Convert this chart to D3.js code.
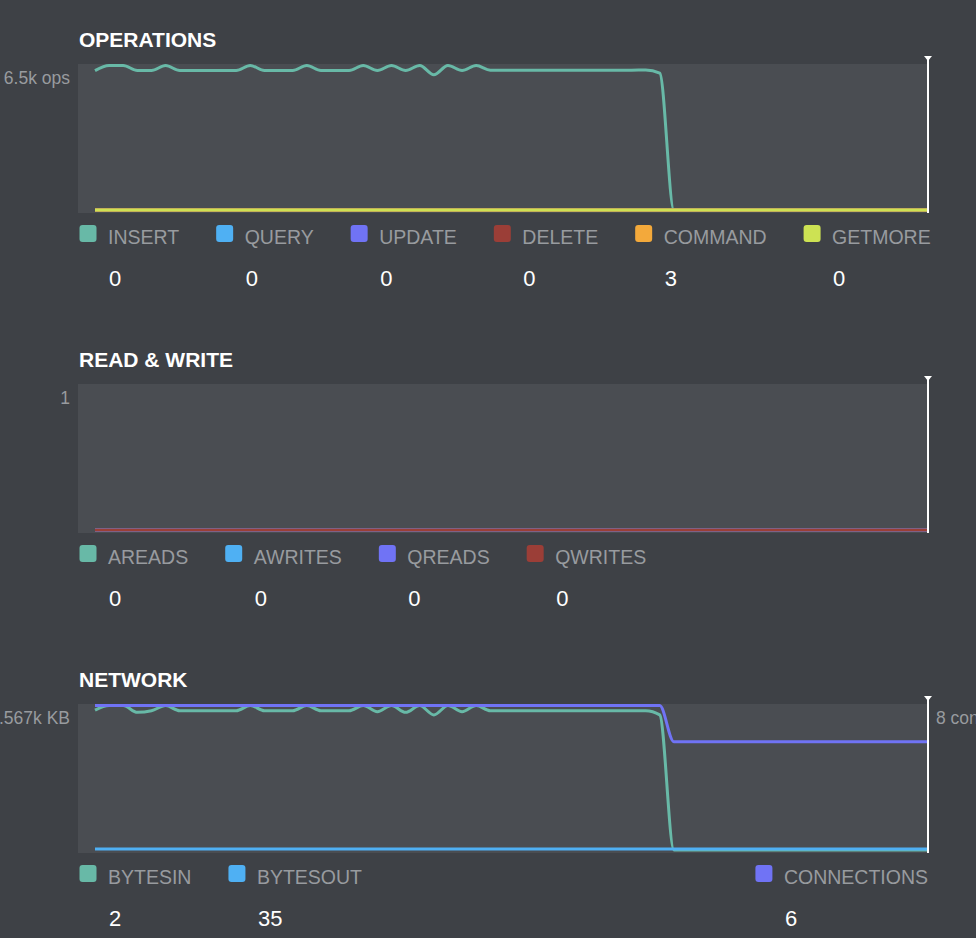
<!DOCTYPE html>
<html>
<head>
<meta charset="utf-8">
<script src="https://cdn.jsdelivr.net/npm/d3@7"></script>
<style>
  html, body { margin: 0; padding: 0; background: #3e4146; overflow: hidden; }
</style>
</head>
<body>
<script>

// ---- data (one sample per tick, oldest first) ----
var insertOps = [6270, 6500, 6500, 6270, 6270, 6500, 6270, 6270, 6270, 6270,
                 6270, 6500, 6270, 6270, 6270, 6500, 6270, 6270, 6270, 6500,
                 6270, 6500, 6270, 6500, 6080, 6500, 6270, 6500, 6290, 6290,
                 6290, 6290, 6290, 6290, 6290, 6290, 6290, 6290, 6290, 6300,
                 6160, 0, 0, 0, 0, 0, 0, 0, 0, 0,
                 0, 0, 0, 0, 0, 0, 0, 0, 0, 0];
var queryOps = [0, 0, 0, 0, 0, 0, 0, 0, 0, 0, 0, 0, 0, 0, 0, 0, 0, 0, 0, 0,
                0, 0, 0, 0, 0, 0, 0, 0, 0, 0, 0, 0, 0, 0, 0, 0, 0, 0, 0, 0,
                0, 0, 0, 0, 0, 0, 0, 0, 0, 0, 0, 0, 0, 0, 0, 0, 0, 0, 0, 0];
var updateOps = queryOps;
var deleteOps = queryOps;
var commandOps = [3, 3, 3, 3, 3, 3, 3, 3, 3, 3, 3, 3, 3, 3, 3, 3, 3, 3, 3, 3,
                  3, 3, 3, 3, 3, 3, 3, 3, 3, 3, 3, 3, 3, 3, 3, 3, 3, 3, 3, 3,
                  3, 3, 3, 3, 3, 3, 3, 3, 3, 3, 3, 3, 3, 3, 3, 3, 3, 3, 3, 3];
var getmoreOps = queryOps;

var aReads = queryOps, aWrites = queryOps, qReads = queryOps, qWrites = queryOps;

var bytesIn = [4420, 4567, 4567, 4350, 4400, 4567, 4400, 4400, 4400, 4400,
               4400, 4567, 4400, 4400, 4400, 4567, 4400, 4400, 4400, 4567,
               4370, 4567, 4350, 4567, 4270, 4567, 4370, 4567, 4400, 4400,
               4400, 4400, 4400, 4400, 4400, 4400, 4400, 4400, 4400, 4400,
               4270, 2, 2, 2, 2, 2, 2, 2, 2, 2,
               2, 2, 2, 2, 2, 2, 2, 2, 2, 2];
var bytesOut = [35, 35, 35, 35, 35, 35, 35, 35, 35, 35, 35, 35, 35, 35, 35, 35, 35, 35, 35, 35,
                35, 35, 35, 35, 35, 35, 35, 35, 35, 35, 35, 35, 35, 35, 35, 35, 35, 35, 35, 35,
                35, 35, 35, 35, 35, 35, 35, 35, 35, 35, 35, 35, 35, 35, 35, 35, 35, 35, 35, 35];
var connections = [8, 8, 8, 8, 8, 8, 8, 8, 8, 8, 8, 8, 8, 8, 8, 8, 8, 8, 8, 8,
                   8, 8, 8, 8, 8, 8, 8, 8, 8, 8, 8, 8, 8, 8, 8, 8, 8, 8, 8, 8,
                   8, 6, 6, 6, 6, 6, 6, 6, 6, 6, 6, 6, 6, 6, 6, 6, 6, 6, 6, 6];

// ---- labels ----
var chartTitles = ["OPERATIONS", "READ & WRITE", "NETWORK"];
var opsKeys = ["INSERT", "QUERY", "UPDATE", "DELETE", "COMMAND", "GETMORE"];
var rwKeys = ["AREADS", "AWRITES", "QREADS", "QWRITES"];
var netKeys = ["BYTESIN", "BYTESOUT", "CONNECTIONS"];
var opsCurrent = [0, 0, 0, 0, 3, 0];
var rwCurrent = [0, 0, 0, 0];
var netCurrent = [2, 35, 6];
var leftLabels = ["6.5k ops", "1", "4.567k KB"];
var rightLabel = "8 conns";
var yMax = [6500, 1, 4567];
var connMax = 8;

// ---- colours ----
var col = {
    green: "#68b9a7",
    blue: "#4fb0f3",
    purple: "#7073f5",
    red: "#9b3e37",
    orange: "#f3a93b",
    lime: "#cde253"
};
var bg = "#3e4146",
    plotBg = "#4a4d52",
    labelGrey = "#989b9f",
    font = '"Liberation Sans", Arial, sans-serif';

var W = 976, H = 938;
var plot = {left: 78, right: 928, h: 149},
    lineStart = 95,
    sectionTops = [64, 384, 704];

var svg = d3.select("body").append("svg")
    .attr("width", W)
    .attr("height", H);

svg.append("rect").attr("width", W).attr("height", H).attr("fill", bg);

var n = insertOps.length;
var x = d3.scaleLinear().domain([0, n - 1]).range([lineStart, plot.right]);

function drawSection(idx, series, keys, current, legendRight) {
    var top = sectionTops[idx];
    var g = svg.append("g").attr("transform", "translate(0," + top + ")");

    g.append("text")
        .text(chartTitles[idx])
        .attr("x", 79)
        .attr("y", -17)
        .attr("font-family", font)
        .attr("font-size", "21px")
        .attr("font-weight", 700)
        .attr("fill", "white");

    g.append("rect")
        .attr("x", plot.left)
        .attr("y", 0)
        .attr("width", plot.right - plot.left)
        .attr("height", plot.h)
        .attr("fill", plotBg);

    var y = d3.scaleLinear().domain([0, yMax[idx]]).range([plot.h - 3, 1.5]);
    var yc = d3.scaleLinear().domain([0, connMax]).range([plot.h - 3, 1.5]);

    g.append("text")
        .text(leftLabels[idx])
        .attr("x", 70)
        .attr("y", 20)
        .attr("text-anchor", "end")
        .attr("font-family", font)
        .attr("font-size", "17.5px")
        .attr("fill", labelGrey);

    series.forEach(function(s) {
        var sc = s.right ? yc : y;
        var line = d3.line()
            .x(function(d, i) { return x(i); })
            .y(function(d) { return sc(d); })
            .curve(d3.curveMonotoneX);
        g.append("path")
            .datum(s.values)
            .attr("d", line)
            .attr("fill", "none")
            .attr("stroke", s.color)
            .attr("stroke-width", 3)
            .attr("stroke-linejoin", "round");
    });

    // now marker
    var mx = x(n - 1);
    g.append("line")
        .attr("x1", mx).attr("x2", mx)
        .attr("y1", -7).attr("y2", plot.h)
        .attr("stroke", "white")
        .attr("stroke-width", 2);
    g.append("path")
        .attr("d", "M" + (mx - 4) + "," + (-8) + "L" + (mx + 4) + "," + (-8) + "L" + mx + "," + (-3) + "Z")
        .attr("fill", "white");

    if (idx == 2) {
        g.append("text")
            .text(rightLabel)
            .attr("x", 936)
            .attr("y", 20)
            .attr("font-family", font)
            .attr("font-size", "17.5px")
            .attr("fill", labelGrey);
    }

    // ---- legend ----
    var lg = g.append("g").attr("transform", "translate(0," + (plot.h + 12) + ")");
    var cx = 79.5;
    keys.forEach(function(k, i) {
        var item = lg.append("g");
        item.append("rect")
            .attr("x", 0).attr("y", 0)
            .attr("width", 17).attr("height", 17)
            .attr("rx", 3).attr("ry", 3)
            .attr("fill", series[i].color);
        var t = item.append("text")
            .text(k)
            .attr("x", 28.5)
            .attr("y", 19)
            .attr("font-family", font)
            .attr("font-size", "19.5px")
            .attr("fill", labelGrey);
        item.append("text")
            .text(current[i])
            .attr("x", 29.5)
            .attr("y", 61)
            .attr("font-family", font)
            .attr("font-size", "22px")
            .attr("fill", "white");
        var tw = t.node().getComputedTextLength();
        if (legendRight && i == keys.length - 1) {
            item.attr("transform", "translate(" + (plot.right - 28.5 - tw) + ",0)");
        } else {
            item.attr("transform", "translate(" + cx + ",0)");
        }
        cx += 28.5 + tw + 37;
    });
}

drawSection(0, [
    {values: insertOps, color: col.green},
    {values: queryOps, color: col.blue},
    {values: updateOps, color: col.purple},
    {values: deleteOps, color: col.red},
    {values: commandOps, color: col.orange},
    {values: getmoreOps, color: col.lime}
], opsKeys, opsCurrent, false);

drawSection(1, [
    {values: aReads, color: col.green},
    {values: aWrites, color: col.blue},
    {values: qReads, color: col.purple},
    {values: qWrites, color: col.red}
], rwKeys, rwCurrent, false);

drawSection(2, [
    {values: bytesIn, color: col.green},
    {values: bytesOut, color: col.blue},
    {values: connections, color: col.purple, right: true}
], netKeys, netCurrent, true);

</script>
</body>
</html>
